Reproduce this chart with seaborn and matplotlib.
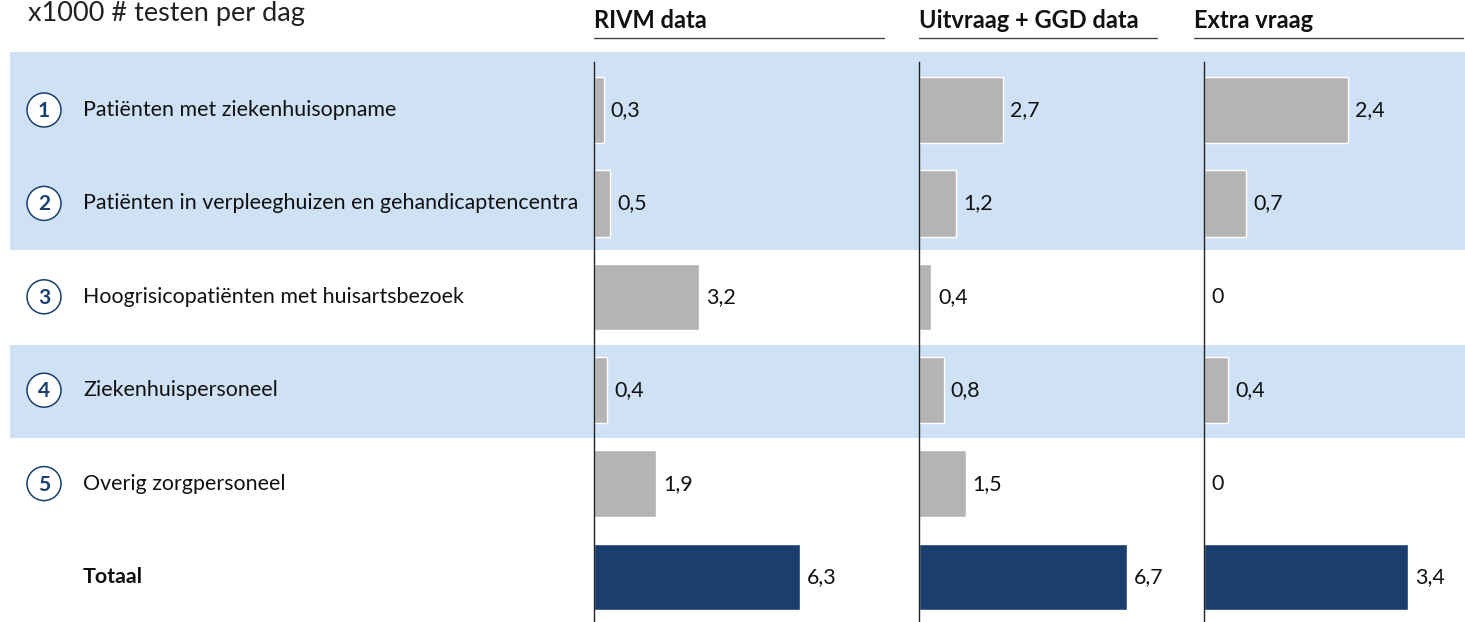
"""
Testcapaciteit per doelgroep - x1000 testen per dag
"""

import matplotlib.pyplot as plt
import seaborn as sns
import pandas as pd
from matplotlib.patches import Circle, Rectangle

sns.set_theme(style='white')
plt.rcParams['font.family'] = ['Lato', 'DejaVu Sans']

# data
categories = ['Patiënten met ziekenhuisopname',
              'Patiënten in verpleeghuizen en gehandicaptencentra',
              'Hoogrisicopatiënten met huisartsbezoek',
              'Ziekenhuispersoneel',
              'Overig zorgpersoneel',
              'Totaal']
row_numbers = ['1', '2', '3', '4', '5', '']
rivm = [0.3, 0.5, 3.2, 0.4, 1.9, 6.3]
uitvraag = [2.7, 1.2, 0.4, 0.8, 1.5, 6.7]
extra = [2.4, 0.7, 0, 0.4, 0, 3.4]
panel_titles = ['RIVM data', 'Uitvraag + GGD data', 'Extra vraag']

GRAY = '#b4b4b4'
NAVY = '#1a3f6f'
BAND = '#cfe1f5'

W, H = 1465, 622
fig = plt.figure(figsize=(W / 100, H / 100), dpi=100)

# achtergrond-as in pixelcoördinaten
bg = fig.add_axes([0, 0, 1, 1], zorder=-1)
bg.set_xlim(0, W)
bg.set_ylim(H, 0)
bg.axis('off')

row_y0, row_step = 110, 93.4
bg.add_patch(Rectangle((10, 52), W - 10, 198, color=BAND, lw=0))
bg.add_patch(Rectangle((10, 345), W - 10, 93, color=BAND, lw=0))

bg.text(28, 21, 'x1000 # testen per dag', fontsize=19.5, color='#222222', va='baseline')

for i, (cat, num) in enumerate(zip(categories, row_numbers)):
    y = row_y0 + i * row_step
    if num:
        bg.add_patch(Circle((44, y), 17, facecolor='white', edgecolor=NAVY, lw=1.1))
        bg.text(44, y + 1, num, ha='center', va='center', fontsize=15,
                fontweight='bold', color=NAVY)
    bg.text(83, y, cat, ha='left', va='center', fontsize=15.4, color='#111111',
            fontweight='bold' if cat == 'Totaal' else 'normal')

# panelen: (links px, breedte px, px per eenheid, kop-links, kop-rechts)
panels = [(594, 290, 32.7, 594, 884),
          (919, 238, 31.0, 919, 1157),
          (1204, 260, 60.0, 1194, 1463)]
series = [rivm, uitvraag, extra]
colors = [GRAY] * 5 + [NAVY]

top_px, bot_px = 62, H
ylim_top = -(row_y0 - top_px) / row_step
ylim_bot = 5 + (bot_px - (row_y0 + 5 * row_step)) / row_step

for (left, width, scale, hl, hr), vals, title in zip(panels, series, panel_titles):
    ax = fig.add_axes([left / W, 0, width / W, (H - top_px) / H])
    ax.patch.set_alpha(0)
    df = pd.DataFrame({'cat': categories, 'val': vals})
    sns.barplot(data=df, x='val', y='cat', hue='cat', palette=colors,
                orient='h', width=0.71, saturation=1, edgecolor='white',
                linewidth=1, legend=False, ax=ax)
    ax.set_xlim(0, width / scale)
    ax.set_ylim(ylim_bot, ylim_top)
    for c in ax.containers:
        ax.bar_label(c, labels=[f'{v:.1f}'.replace('.', ',') if v else '0' for v in c.datavalues],
                     padding=5, fontsize=15.4, color='#111111')
    ax.set_xlabel('')
    ax.set_ylabel('')
    ax.set_xticks([])
    ax.set_yticks([])
    for s in ['top', 'right', 'bottom']:
        ax.spines[s].set_visible(False)
    ax.spines['left'].set_color('#222222')
    ax.spines['left'].set_linewidth(1)

    bg.text(hl, 28, title, fontsize=17, fontweight='bold', color='#111111', va='baseline')
    bg.plot([hl, hr], [38, 38], color='#444444', lw=1)

plt.savefig('out.png', dpi=100)
plt.close()
